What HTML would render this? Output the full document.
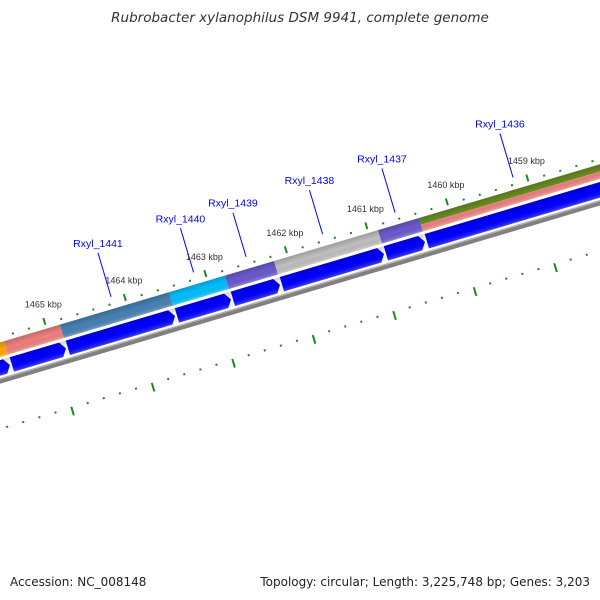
<!DOCTYPE html>
<html><head><meta charset="utf-8"><style>
html,body{margin:0;padding:0;background:#fff;}
svg{display:block;font-family:"Liberation Sans","DejaVu Sans",sans-serif;}
</style></head><body>
<svg id="map" width="600" height="600" viewBox="0 0 600 600" xmlns="http://www.w3.org/2000/svg">
<defs>
<linearGradient id="shade" x1="0" y1="0" x2="0" y2="1">
<stop offset="0" stop-color="#000" stop-opacity="0.18"/>
<stop offset="0.5" stop-color="#000" stop-opacity="0"/>
<stop offset="1" stop-color="#fff" stop-opacity="0.25"/>
</linearGradient>
</defs>
<text x="300" y="22" text-anchor="middle" font-size="13.5" font-style="italic" fill="#333" style="font-family:'DejaVu Sans',sans-serif">Rubrobacter xylanophilus DSM 9941, complete genome</text>
<g id="rot" transform="translate(0,381) rotate(-16.54)"></g>
<g id="labels"></g>
<text x="10" y="586" font-size="12" fill="#222" style="font-family:'DejaVu Sans',sans-serif">Accession: NC_008148</text>
<text x="590" y="586" text-anchor="end" font-size="12" fill="#222" style="font-family:'DejaVu Sans',sans-serif">Topology: circular; Length: 3,225,748 bp; Genes: 3,203</text>
</svg>
<script>
const geneStarts=[1466500,1465529,1464833,1463478,1462783,1462174,1460882,1460373];
const geneEnds=[1465529,1464833,1463478,1462783,1462174,1460882,1460373,1457950];
const geneColors=["#FFA500","#F08080","#4682B4","#00BFFF","#6A5ACD","#C0C0C0","#6A5ACD","#6B8E23"];
const geneLabels=["","","Rxyl_1441","Rxyl_1440","Rxyl_1439","Rxyl_1438","Rxyl_1437","Rxyl_1436"];
const tickStart=1457000, tickEnd=1467000, tickStep=200;
const NS="http://www.w3.org/2000/svg";
const TH=16.54*Math.PI/180, C=Math.cos(TH), S=Math.sin(TH);
function u(bp){return 59.5+(1465000-bp)*0.08397;}
function sx(uu,v){return uu*C+v*S;}
function sy(uu,v){return 381-uu*S+v*C;}
const rot=document.getElementById('rot'), lab=document.getElementById('labels');
function mk(tag,attrs,parent){const e=document.createElementNS(NS,tag);for(const k in attrs)e.setAttribute(k,attrs[k]);parent.appendChild(e);return e;}
let bb=mk('rect',{x:-60,y:-2.6,width:800,height:5.2,fill:'#808080'},rot);


mk('rect',{x:-60,y:-2.6,width:800,height:1.4,fill:'#b0b0b0'},rot);
for(let i=0;i<geneStarts.length;i++){
  const a=u(geneStarts[i]), b=u(geneEnds[i]);
  let r;
  if(i===7){
    r=mk('rect',{x:a,y:-37,width:b-a,height:7,fill:geneColors[i]},rot);
    let p=mk('rect',{x:a,y:-30,width:b-a,height:7,fill:'#F08080'},rot);
    
    
  } else {
    r=mk('rect',{x:a,y:-37,width:b-a,height:14,fill:geneColors[i]},rot);
  }
  
  
  const s=a+1, e=b-1, h=5, t=-20, bt=-5, m=-12.5;
  const ar=mk('path',{d:`M${s},${t} L${e-h},${t} L${e},${m} L${e-h},${bt} L${s},${bt} Z`,fill:'#0000FF'},rot);
  
  
  if(geneLabels[i]){
    const mid=u((geneStarts[i]+geneEnds[i])/2);
    const x1=sx(mid,-49),y1=sy(mid,-49),x2=sx(mid,-95),y2=sy(mid,-95);
    const ln=mk('line',{x1:x1,y1:y1,x2:x2,y2:y2,stroke:'#0000FF','stroke-width':1},lab);
    
    
    const tx=mk('text',{x:x2,y:y2-6,'text-anchor':'middle','font-size':10.5,fill:'#0000FF'},lab);
    tx.textContent=geneLabels[i];
    
    
  }
}
mk('rect',{x:-60,y:-37,width:800,height:14,fill:'url(#shade)'},rot);
mk('rect',{x:-60,y:-20,width:800,height:15,fill:'url(#shade)'},rot);
for(let bp=tickStart;bp<=tickEnd;bp+=tickStep){
  const uu=u(bp), major=bp%1000===0;
  const t1=mk('rect',{x:uu-1,y:major?-48:-43,width:2,height:major?7:2,fill:'#1a8a1a'},rot);
  
  
  const t2=mk('rect',{x:uu+0.5,y:45,width:2,height:major?9:2,fill:'#1a8a1a'},rot);
  
  
  const lx=sx(uu,-62)+4;
  if(major && lx<570 && lx>0){
    const tl=mk('text',{x:lx,y:sy(uu,-62)+3,'text-anchor':'middle','font-size':9,fill:'#333'},lab);
    tl.textContent=(bp/1000)+' kbp';
    
    
  }
}
</script>
</body></html>
